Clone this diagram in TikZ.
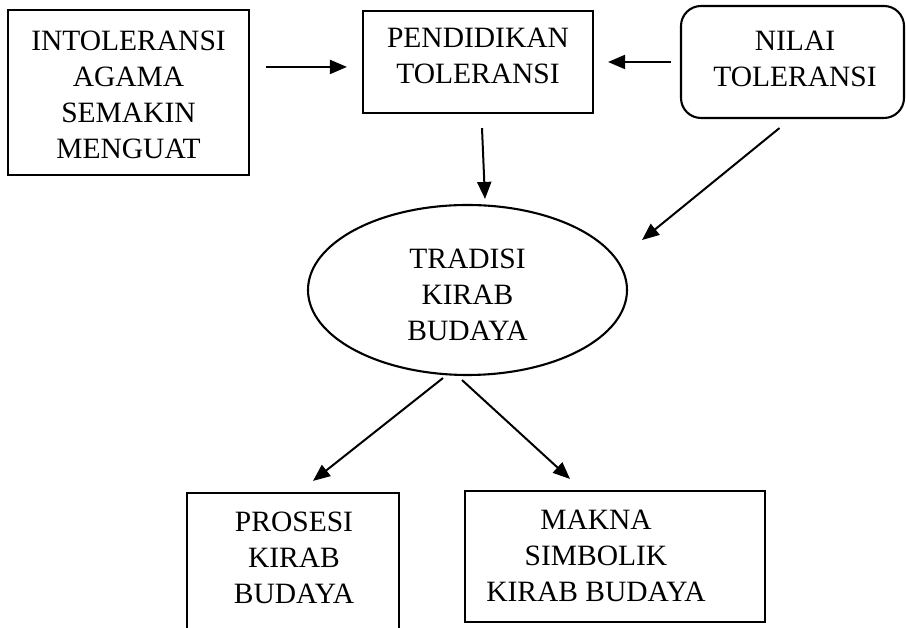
\documentclass[tikz,border=0pt]{standalone}
\usepackage{fontspec}
\setmainfont{Liberation Serif}
\usetikzlibrary{shapes.geometric,arrows.meta,calc}
\begin{document}
\begin{tikzpicture}[x=1pt,y=1pt,
  frame/.style={draw,line width=2.1pt,inner sep=0pt,rectangle},
  txt/.style={font=\fontsize{29.5}{36}\selectfont,align=center,inner sep=0pt},
  arr/.style={line width=2pt,-{Triangle[length=17pt,width=14pt]}}]
\useasboundingbox (0,0) rectangle (906,628);
% shapes
\node[frame,minimum width=241pt,minimum height=165pt] (A) at (128.5,535.5) {};
\node[frame,minimum width=230pt,minimum height=102pt] (B) at (478,566) {};
\node[frame,rounded corners=20pt,minimum width=223pt,minimum height=112pt] (C) at (792.5,566) {};
\node[draw,ellipse,line width=2.1pt,inner sep=0pt,minimum width=319pt,minimum height=170pt] (T) at (467.5,338) {};
\node[frame,minimum width=212pt,minimum height=160pt] (D) at (293,55) {};
\node[frame,minimum width=300pt,minimum height=131pt] (E) at (615,71.5) {};
% texts
\node[txt] (tA) at (128.5,533) {INTOLERANSI\\AGAMA\\SEMAKIN\\MENGUAT};
\node[txt] (tB) at (478,572) {PENDIDIKAN\\TOLERANSI};
\node[txt] (tC) at (795,569) {NILAI\\TOLERANSI};
\node[txt] (tT) at (467.5,333) {TRADISI\\KIRAB\\BUDAYA};
\node[txt] (tD) at (294,70) {PROSESI\\KIRAB\\BUDAYA};
\node[txt] (tE) at (596,72) {MAKNA\\SIMBOLIK\\KIRAB BUDAYA};
% connectors
\draw[arr] ($(A.north east)+(16,-58)$) -- ($(B.north west)+(-15,-57)$);
\draw[arr] ($(C.west)+(-9,0)$) -- ($(B.east)+(14,0)$);
\draw[arr] ($(B.south)+(4,-14)$) -- ($(T.north)+(17.5,5)$);
\draw[arr] ($(C.south)+(-13,-9)$) -- ($(T.east)+(14,50)$);
\draw[arr] ($(T.south)+(-24.5,-2)$) -- ($(D.north)+(20,11)$);
\draw[arr] ($(T.south)+(-5.5,-4)$) -- ($(E.north)+(-45,11)$);
\end{tikzpicture}
\end{document}
